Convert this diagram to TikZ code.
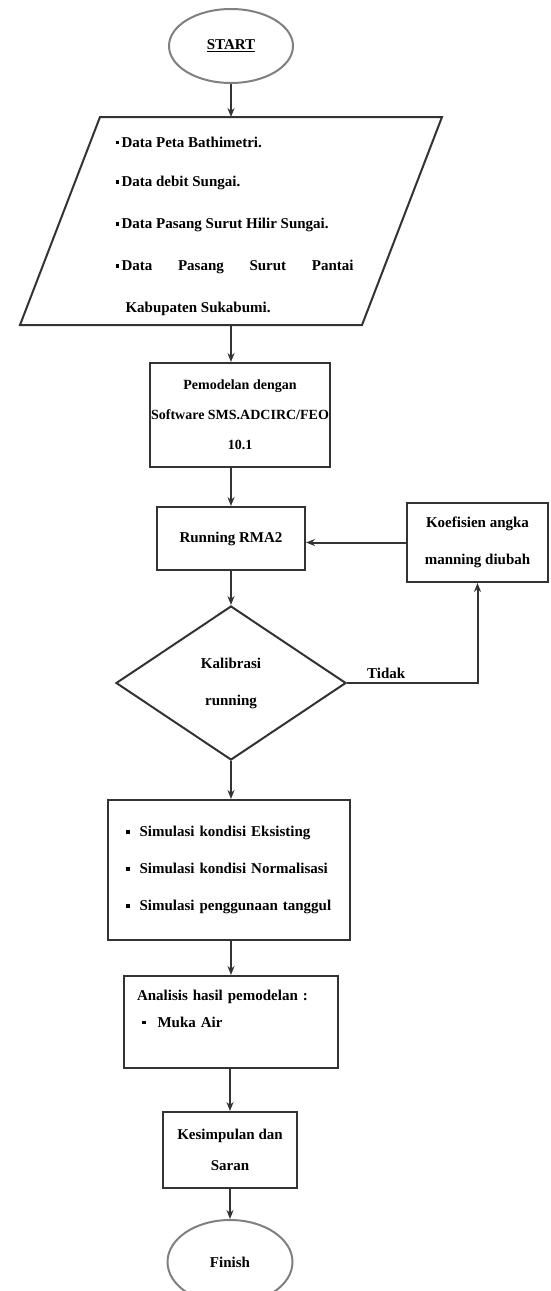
\documentclass[tikz,border=0pt]{standalone}
\usepackage{fontspec}
\setmainfont{Liberation Serif}
\usetikzlibrary{shapes.geometric,positioning,arrows.meta}

\newcommand{\sqbul}{\raisebox{3pt}{\rule{3.5pt}{3.5pt}}}

\begin{document}
\begin{tikzpicture}[x=1pt,y=-1pt,>={Stealth[length=9pt,width=7pt]},
  font=\fontsize{15}{18}\selectfont\bfseries,
  box/.style={draw=black!80,line width=2pt,align=center,inner sep=0pt},
  term/.style={draw=black!50,line width=2pt,ellipse,inner sep=0pt},
  flow/.style={->,line width=2pt,draw=black!80}]
\useasboundingbox (0,0) rectangle (550,1291);

% start
\node[term,minimum width=124pt,minimum height=74pt] (start) at (231,46) {\underline{START}};

% input data
\coordinate (dtop) at (231,117);
\coordinate (dbot) at (231,325);
\draw[black!80,line width=2pt] (100,117) -- (442,117) -- (362,325) -- (20,325) -- cycle;
\node[anchor=west] (d1) at (112,142) {\sqbul\,Data Peta Bathimetri.};
\node[anchor=west] (d2) at (112,183) {\sqbul\,Data debit Sungai.};
\node[anchor=west] (d3) at (112,225) {\sqbul\,Data Pasang Surut Hilir Sungai.};
\node[anchor=west] (d4) at (112,267) {\makebox[238pt][s]{\sqbul\,Data Pasang Surut Pantai}};
\node[anchor=west] (d5) at (122,309) {Kabupaten Sukabumi.};

% proses
\node[box,minimum width=180pt,minimum height=104pt,font=\fontsize{14}{30}\selectfont\bfseries]
  (model) at (240,415) {Pemodelan dengan\\Software SMS.ADCIRC/FEO\\10.1};
\node[box,minimum width=148pt,minimum height=63pt] (run) at (231,538.5) {Running RMA2};
\node[box,minimum width=141pt,minimum height=79pt,font=\fontsize{15}{37}\selectfont\bfseries]
  (koef) at (477.5,542.5) {Koefisien angka\\manning diubah};
\node[box,diamond,aspect=1.5,minimum width=230pt,minimum height=154pt,font=\fontsize{15}{37}\selectfont\bfseries]
  (dec) at (231,683) {Kalibrasi\\running};
\node[box,minimum width=242pt,minimum height=140pt,text width=242pt,align=left,font=\fontsize{15}{37}\selectfont\bfseries]
  (sim) at (229,870) {\hspace*{18pt}\sqbul\hspace{10pt}Simulasi kondisi Eksisting\\
  \hspace*{18pt}\sqbul\hspace{10pt}Simulasi kondisi Normalisasi\\
  \hspace*{18pt}\sqbul\hspace{10pt}Simulasi penggunaan tanggul};
\node[box,minimum width=214pt,minimum height=92pt,text width=214pt,align=left,font=\fontsize{15}{27}\selectfont\bfseries]
  (hasil) at (231,1022) {\hspace*{13pt}Analisis hasil pemodelan :\\
  \hspace*{18pt}\sqbul\hspace{12pt}Muka Air\\ ~};
\node[box,minimum width=134pt,minimum height=76pt,font=\fontsize{15}{31}\selectfont\bfseries]
  (simpul) at (230,1150) {Kesimpulan dan\\Saran};

% finish
\node[term,minimum width=125pt,minimum height=84pt] (finish) at (230,1262) {Finish};

% arrows
\draw[flow] (start.south) -- (dtop);
\draw[flow] (dbot) -- (dbot |- model.north);
\draw[flow] (model.south -| run) -- (run.north);
\draw[flow] (run.south) -- (dec.north);
\draw[flow] (koef.west) -- (koef.west -| run.east);
\draw[flow] (dec.east) -- node[above,pos=0.3] (tidak) {Tidak} (dec.east -| koef.south) -- (koef.south);
\draw[flow] (dec.south) -- (dec.south |- sim.north);
\draw[flow] (sim.south -| hasil) -- (hasil.north);
\draw[flow] (hasil.south -| simpul) -- (simpul.north);
\draw[flow] (simpul.south) -- (finish.north);
\end{tikzpicture}
\end{document}
